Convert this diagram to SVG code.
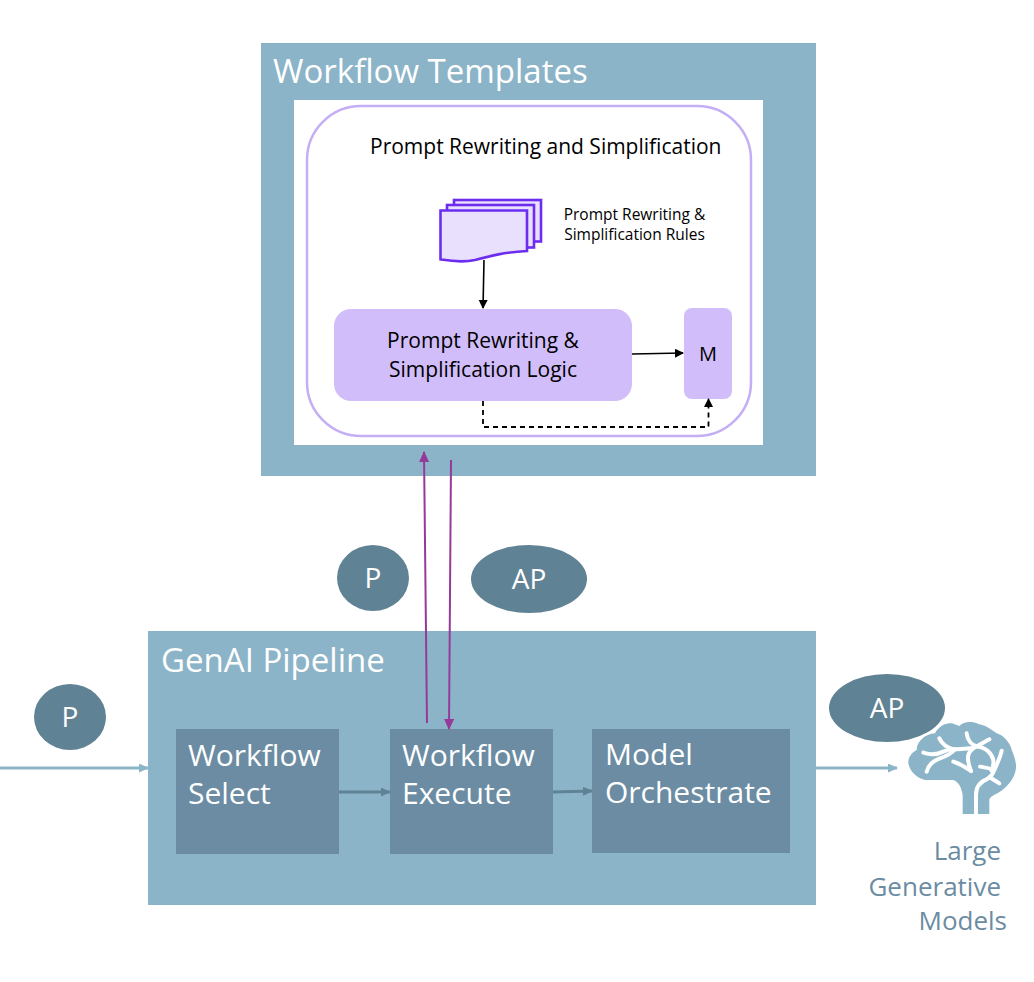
<svg xmlns="http://www.w3.org/2000/svg" width="1034" height="982" viewBox="0 0 1034 982">
<style>
text{font-family:"Open Sans","Noto Sans","Liberation Sans",sans-serif}
.h{font-size:33px;fill:#fff}
.b{font-size:30px;fill:#fff}
.k{fill:#000}
.box{fill:#6b8ca3}
.oval{fill:#5f8294}
.cn{fill:none}
.lg{font-size:26px;fill:#6b8ca3;text-anchor:end}
</style>
<defs>
<marker id="ak" markerWidth="11" markerHeight="11" refX="8" refY="4.500" orient="auto" markerUnits="userSpaceOnUse"><path d="M0 0L9 4.500L0 9z" fill="#000"/></marker>
<marker id="ap" markerWidth="12" markerHeight="12" refX="10" refY="5" orient="auto" markerUnits="userSpaceOnUse"><path d="M0 0L11 5L0 10z" fill="#953a98"/></marker>
<marker id="ab" markerWidth="12" markerHeight="12" refX="9" refY="4.500" orient="auto" markerUnits="userSpaceOnUse"><path d="M0 0L10 4.500L0 9z" fill="#8cb4c8"/></marker>
<marker id="ag" markerWidth="12" markerHeight="12" refX="9" refY="4.500" orient="auto" markerUnits="userSpaceOnUse"><path d="M0 0L10 4.500L0 9z" fill="#5f8294"/></marker>
</defs>
<g id="workflow-templates">
<rect x="261" y="43" width="555" height="433" fill="#8cb4c8"/>
<rect x="294" y="100" width="469" height="345" fill="#fff"/>
<text class="h" x="273" y="83">Workflow Templates</text>
</g>
<g id="prompt-panel">
<rect x="307" y="106" width="444" height="330" rx="54" fill="#fff" stroke="#c4aef5" stroke-width="2.500"/>
<text class="k" x="370" y="154" font-size="21">Prompt Rewriting and Simplification</text>
</g>
<g id="rules-doc" fill="#e9e0fd" stroke="#6c2df0" stroke-width="2.600">
<rect x="454" y="200" width="87" height="41.500"/>
<rect x="447" y="205" width="87" height="42.500"/>
<path d="M440.500 210.500H527V251C505 252 490 256 475 260C462 263 450 261 440.500 259.500Z"/>
<text x="634.500" y="220" font-size="15.500" text-anchor="middle" fill="#000" stroke="none">Prompt Rewriting &amp;</text>
<text x="634.500" y="240" font-size="15.500" text-anchor="middle" fill="#000" stroke="none">Simplification Rules</text>
</g>
<g id="logic">
<rect x="334" y="309" width="298" height="92" rx="17" fill="#d1bdfa"/>
<text class="k" x="483" y="348" font-size="21" text-anchor="middle">Prompt Rewriting &amp;</text>
<text class="k" x="483" y="377" font-size="21" text-anchor="middle">Simplification Logic</text>
</g>
<g id="m">
<rect x="684" y="308" width="48" height="91" rx="8" fill="#d1bdfa"/>
<text class="k" x="708" y="361" font-size="20" text-anchor="middle">M</text>
</g>
<g id="genai-pipeline">
<rect x="148" y="631" width="668" height="274" fill="#8cb4c8"/>
<text class="h" x="161" y="672">GenAI Pipeline</text>
</g>
<g id="workflow-select">
<rect class="box" x="176" y="729" width="163" height="125"/>
<text class="b" x="188" y="766">Workflow</text>
<text class="b" x="188" y="804">Select</text>
</g>
<g id="workflow-execute">
<rect class="box" x="390" y="729" width="163" height="125"/>
<text class="b" x="402" y="766">Workflow</text>
<text class="b" x="402" y="804">Execute</text>
</g>
<g id="model-orchestrate">
<rect class="box" x="592" y="729" width="198" height="124"/>
<text class="b" x="605" y="765">Model</text>
<text class="b" x="605" y="803">Orchestrate</text>
</g>
<g id="p-top">
<ellipse class="oval" cx="373" cy="578" rx="36" ry="33"/>
<text x="373" y="588" font-size="28" fill="#fff" text-anchor="middle">P</text>
</g>
<g id="ap-top">
<ellipse class="oval" cx="529" cy="579" rx="58" ry="34"/>
<text x="529" y="589" font-size="28" fill="#fff" text-anchor="middle">AP</text>
</g>
<g id="p-left">
<ellipse class="oval" cx="70" cy="717" rx="36" ry="33"/>
<text x="70" y="727" font-size="28" fill="#fff" text-anchor="middle">P</text>
</g>
<g id="ap-right">
<ellipse class="oval" cx="887" cy="708" rx="58" ry="34"/>
<text x="887" y="718" font-size="28" fill="#fff" text-anchor="middle">AP</text>
</g>
<g id="brain">
<g transform="translate(890 700) scale(.3333)">
<path d="M218 342V285C215 262 205 245 190 240H105C80 235 60 215 55 190C54 175 62 160 80 150C80 125 105 102 135 100C145 80 165 68 185 70C195 72 205 78 208 78C220 65 245 62 265 72C285 75 300 85 320 100C340 105 362 130 365 150C372 165 380 190 378 205C375 235 350 265 325 278C310 285 298 292 298 300V342Z" fill="#8cb4c8"/>
<g fill="none" stroke="#fff" stroke-width="12" stroke-linecap="round" stroke-linejoin="round">
<path d="M148 115C155 130 170 142 190 148C205 148 225 145 245 145"/>
<path d="M100 158C120 165 140 165 160 155C170 150 180 148 190 148"/>
<path d="M110 215C115 195 130 182 150 175C165 170 185 160 195 148"/>
<path d="M230 100C232 120 245 135 262 140C285 140 305 160 310 180C312 195 308 205 305 212"/>
<path d="M298 118C280 128 260 138 250 145C235 155 232 170 235 185C236 195 240 205 243 213"/>
<path d="M190 185C205 190 225 200 243 213"/>
<path d="M335 152C332 170 322 190 312 212C308 225 300 232 290 238C272 245 258 260 258 285V342"/>
<path d="M270 200C285 203 295 203 305 208"/>
<path d="M298 232C310 238 320 245 328 250"/>
</g>
</g>
<text class="lg" x="1001" y="860">Large</text>
<text class="lg" x="1001" y="896">Generative</text>
<text class="lg" x="1007" y="930">Models</text>
</g>
<g id="connectors" class="cn">
<path d="M484 260L483 308" stroke="#000" stroke-width="1.600" marker-end="url(#ak)"/>
<path d="M632 354L683 353" stroke="#000" stroke-width="1.600" marker-end="url(#ak)"/>
<path d="M483 401V427H708.500V399" stroke="#000" stroke-width="1.800" stroke-dasharray="5 4" marker-end="url(#ak)"/>
<path d="M427 723L424 452" stroke="#953a98" stroke-width="2" marker-end="url(#ap)"/>
<path d="M451 460L449 729" stroke="#953a98" stroke-width="2" marker-end="url(#ap)"/>
<path d="M0 768H148" stroke="#8cb4c8" stroke-width="3" marker-end="url(#ab)"/>
<path d="M816 768H897" stroke="#8cb4c8" stroke-width="3" marker-end="url(#ab)"/>
<path d="M339 792H390" stroke="#5f8294" stroke-width="3" marker-end="url(#ag)"/>
<path d="M553 792L592 791" stroke="#5f8294" stroke-width="3" marker-end="url(#ag)"/>
</g>
</svg>
